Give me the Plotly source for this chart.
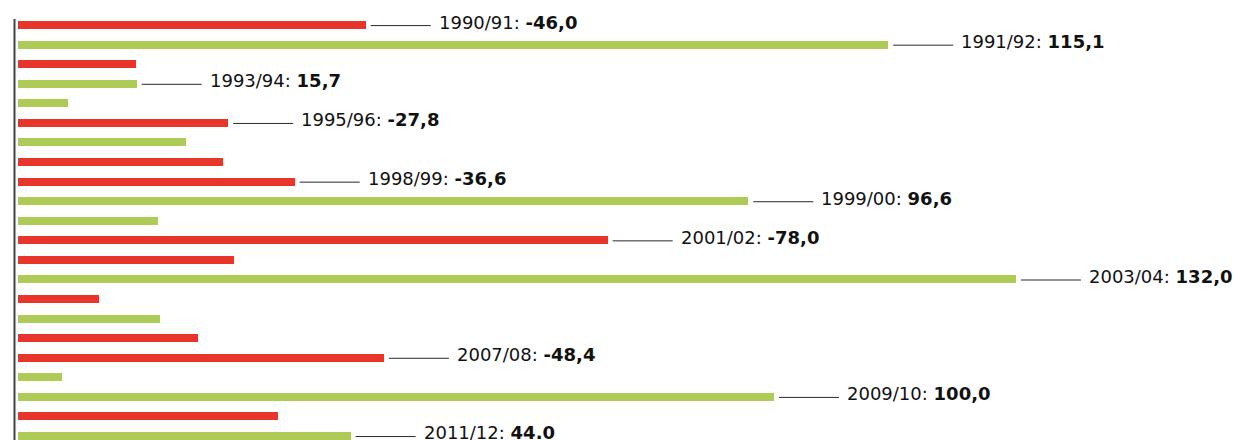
import plotly.graph_objects as go

# Season-on-season change, one bar per season
seasons = [
    "1990/91", "1991/92", "1992/93", "1993/94", "1994/95", "1995/96",
    "1996/97", "1997/98", "1998/99", "1999/00", "2000/01", "2001/02",
    "2002/03", "2003/04", "2004/05", "2005/06", "2006/07", "2007/08",
    "2008/09", "2009/10", "2010/11", "2011/12",
]
values = [
    -46.0, 115.1, -15.6, 15.7, 6.6, -27.8,
    22.2, -27.1, -36.6, 96.6, 18.5, -78.0,
    -28.6, 132.0, -10.7, 18.8, -23.8, -48.4,
    5.8, 100.0, -34.4, 44.0,
]
# Seasons that carry a value label
labelled = [
    "1990/91", "1991/92", "1993/94", "1995/96", "1998/99", "1999/00",
    "2001/02", "2003/04", "2007/08", "2009/10", "2011/12",
]
# Decimal separator used in each label (comma unless listed)
label_sep = {"2011/12": "."}

RED = "#e8352c"
GREEN = "#aecb57"
FONT = "DejaVu Sans, Verdana, sans-serif"

W, H = 1234, 440
PX_PER_UNIT = 7.56
X0_PX = 18
ROW0_PX = 25
ROW_PX = 19.57

idx = list(range(len(seasons)))
lengths = [abs(v) for v in values]
colors = [RED if v < 0 else GREEN for v in values]

fig = go.Figure()
fig.add_trace(go.Bar(
    y=idx, x=lengths, orientation="h",
    marker=dict(color=colors, line=dict(width=0)),
    width=8 / ROW_PX,
    hoverinfo="skip",
))

shapes = []
annotations = []
gap = 5 / PX_PER_UNIT
lead = 60 / PX_PER_UNIT
pad = 6 / PX_PER_UNIT
for i, (s, v) in enumerate(zip(seasons, values)):
    if s not in labelled:
        continue
    end = abs(v)
    shapes.append(dict(
        type="line", xref="x", yref="y",
        x0=end + gap, x1=end + gap + lead, y0=i + 0.03, y1=i + 0.03,
        line=dict(color="#2a2a2a", width=1),
    ))
    txt = f"{v:.1f}".replace(".", label_sep.get(s, ","))
    annotations.append(dict(
        x=end + gap + lead + pad, y=i, xref="x", yref="y",
        text=f"{s}: <b>{txt}</b>", showarrow=False,
        xanchor="left", yanchor="middle", yshift=3,
        font=dict(family=FONT, size=18, color="#111111"),
    ))

# vertical baseline
shapes.append(dict(
    type="line", xref="x", yref="paper",
    x0=-3.5 / PX_PER_UNIT, x1=-3.5 / PX_PER_UNIT,
    y0=0, y1=(H - 19) / H,
    line=dict(color="#444444", width=2),
))

fig.update_layout(
    width=W, height=H,
    margin=dict(l=0, r=0, t=0, b=0),
    paper_bgcolor="white", plot_bgcolor="white",
    showlegend=False,
    shapes=shapes, annotations=annotations,
    bargap=0,
    xaxis=dict(
        range=[-X0_PX / PX_PER_UNIT, (W - X0_PX) / PX_PER_UNIT],
        visible=False, fixedrange=True,
    ),
    yaxis=dict(
        range=[(H - ROW0_PX) / ROW_PX, -ROW0_PX / ROW_PX],
        visible=False, fixedrange=True,
    ),
)

fig.write_html("out.html", config={"displayModeBar": False})
